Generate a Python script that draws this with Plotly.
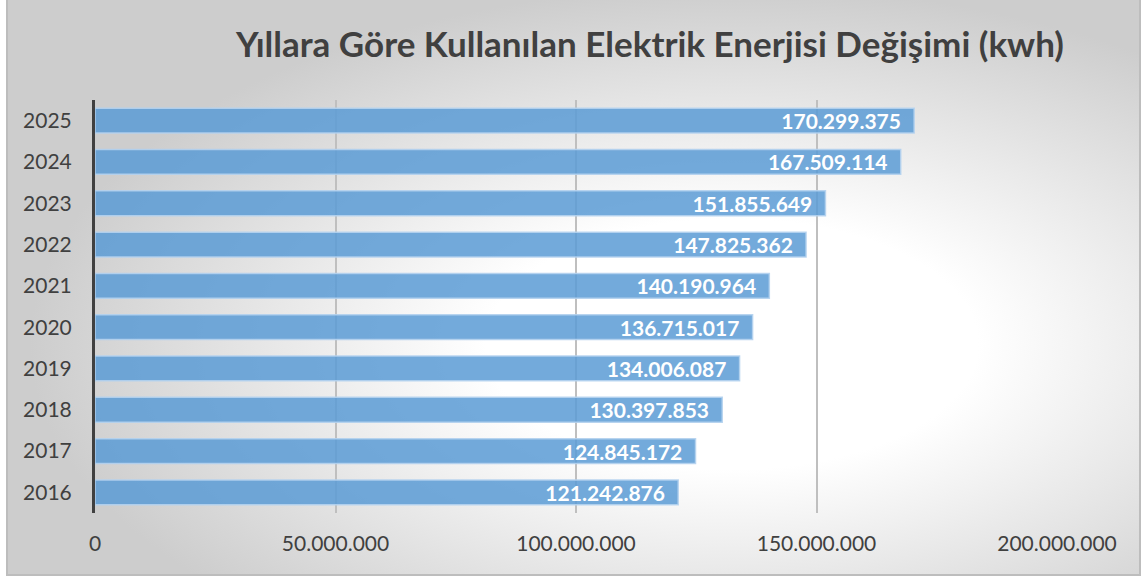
import base64
import plotly.graph_objects as go

# Annual electricity consumption (kWh)
years = ["2016", "2017", "2018", "2019", "2020", "2021", "2022", "2023", "2024", "2025"]
consumption_kwh = [121242876, 124845172, 130397853, 134006087, 136715017,
                   140190964, 147825362, 151855649, 167509114, 170299375]
x_ticks = [0, 50000000, 100000000, 150000000, 200000000]

W, H = 1143, 581
L, R, T, B = 95, 86, 100, 68
pw, ph = W - L - R, H - T - B

# Soft radial-gradient panel with a light grey frame behind the chart
svg = f"""<svg xmlns='http://www.w3.org/2000/svg' width='{W}' height='{H}' viewBox='0 0 {W} {H}'>
<defs><radialGradient id='g' cx='0.64' cy='0.6' r='0.62' fx='0.64' fy='0.6'>
<stop offset='0' stop-color='#ffffff'/><stop offset='0.35' stop-color='#ffffff'/>
<stop offset='1' stop-color='#cdcdcd'/></radialGradient></defs>
<rect x='0' y='0' width='{W}' height='{H}' fill='#ffffff'/>
<rect x='7' y='-2' width='{W - 10}' height='{H - 4}' fill='url(#g)' stroke='#bdbdbd' stroke-width='2'/>
</svg>"""
bg_src = "data:image/svg+xml;base64," + base64.b64encode(svg.encode()).decode()

font = "Lato, 'Open Sans', sans-serif"
text_color = "#404040"

fig = go.Figure(go.Bar(
    x=consumption_kwh,
    y=years,
    orientation="h",
    marker=dict(color="rgba(91,155,213,0.85)",
                line=dict(color="rgba(180,210,238,0.9)", width=1.5)),
    # trailing non-breaking spaces keep the label clear of the bar end
    texttemplate="%{x:,.0f}\u00a0\u00a0",
    textposition="inside",
    insidetextanchor="end",
    textfont=dict(family=font, size=21, color="white", weight="bold"),
    cliponaxis=False,
    hoverinfo="skip",
))

fig.update_layout(
    width=W, height=H,
    margin=dict(l=L, r=R, t=T, b=B, pad=0),
    paper_bgcolor="white",
    plot_bgcolor="rgba(0,0,0,0)",
    separators=",.",
    bargap=0.4,
    showlegend=False,
    uniformtext=dict(minsize=21, mode="show"),
    title=dict(
        text="<b>Yıllara Göre Kullanılan Elektrik Enerjisi Değişimi (kwh)</b>",
        x=650 / W, xanchor="center", y=1 - 45 / H, yanchor="middle",
        font=dict(family=font, size=35, color=text_color),
    ),
    images=[dict(
        source=bg_src, xref="paper", yref="paper",
        x=-L / pw, y=1 + T / ph, sizex=W / pw, sizey=H / ph,
        xanchor="left", yanchor="top", sizing="stretch", layer="below",
    )],
    xaxis=dict(
        range=[0, 200000000],
        tickvals=x_ticks,
        tickformat=",.0f",
        showgrid=True, gridcolor="#bfbfbf", gridwidth=1.5,
        zeroline=False, showline=False,
        ticks="", ticklabelstandoff=16,
        tickfont=dict(family=font, size=21, color=text_color),
        fixedrange=True,
    ),
    yaxis=dict(
        categoryorder="array", categoryarray=years,
        range=[-0.5, 9.5],
        showgrid=False, zeroline=False,
        showline=True, linecolor="#404040", linewidth=3,
        ticks="", ticklabelstandoff=16,
        tickfont=dict(family=font, size=21, color=text_color),
        fixedrange=True,
    ),
)

fig.write_html("out.html")
